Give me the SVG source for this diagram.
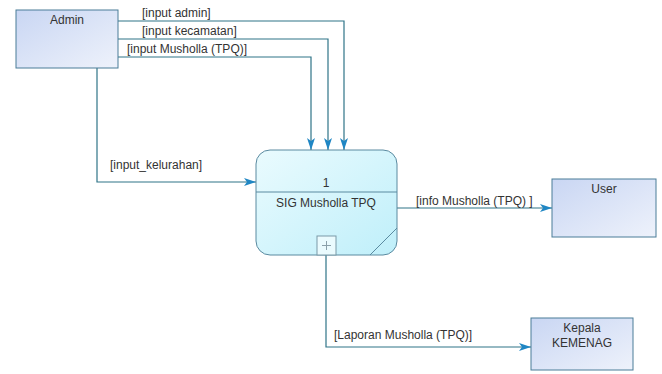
<svg xmlns="http://www.w3.org/2000/svg" width="662" height="374" viewBox="0 0 662 374">
<defs>
<linearGradient id="ent" x1="0" y1="0" x2="1" y2="1">
<stop offset="0" stop-color="#c9d6f3"/>
<stop offset="1" stop-color="#eef2fb"/>
</linearGradient>
<linearGradient id="proc" x1="0" y1="0" x2="1" y2="1">
<stop offset="0" stop-color="#eafbfe"/>
<stop offset="1" stop-color="#bfeffa"/>
</linearGradient>
<marker id="arr" viewBox="0 0 12 8" refX="12" refY="4" markerWidth="12" markerHeight="8" markerUnits="userSpaceOnUse" orient="auto">
<path d="M0,0 L12,4 L0,8 L3,4 Z" fill="#1f86c4"/>
</marker>
<style>
.ent{fill:url(#ent);stroke:#4a7d98;stroke-width:1}
.proc{fill:url(#proc);stroke:#5a8aa0;stroke-width:1}
.ln{fill:none;stroke:#2f7488;stroke-width:1.2}
.t{font-family:"Liberation Sans",Arial,sans-serif;font-size:12px;fill:#333}
.c{text-anchor:middle}
</style>
</defs>
<g id="connectors">
<path class="ln" d="M118,21 H344 V150" marker-end="url(#arr)"/>
<path class="ln" d="M118,39 H328 V150" marker-end="url(#arr)"/>
<path class="ln" d="M118,57 H311 V150" marker-end="url(#arr)"/>
<path class="ln" d="M97,68 V182 H256" marker-end="url(#arr)"/>
<path class="ln" d="M397,208 H552" marker-end="url(#arr)"/>
<path class="ln" d="M326,255 V347 H531" marker-end="url(#arr)"/>
<text class="t" x="142" y="17">[input admin]</text>
<text class="t" x="142" y="35">[input kecamatan]</text>
<text class="t" x="127" y="53">[input Musholla (TPQ)]</text>
<text class="t" x="110" y="169">[input_kelurahan]</text>
<text class="t" x="416" y="205">[info Musholla (TPQ) ]</text>
<text class="t" x="334" y="339">[Laporan Musholla (TPQ)]</text>
</g>
<g id="admin">
<rect class="ent" x="16" y="10" width="102" height="58"/>
<text class="t c" x="67" y="24">Admin</text>
</g>
<g id="process1">
<rect class="proc" x="256" y="150" width="141" height="105" rx="14" ry="14"/>
<line x1="256" y1="192" x2="397" y2="192" stroke="#5a8aa0" stroke-width="1"/>
<line x1="370" y1="255" x2="397" y2="228" stroke="#5a8aa0" stroke-width="1"/>
<rect x="317" y="236" width="19" height="19" fill="#eafbfe" stroke="#7a9aa8" stroke-width="1"/>
<path d="M322,245.5 H331 M326.5,241 V250" stroke="#8aa0aa" stroke-width="1" fill="none"/>
<text class="t c" x="326" y="187">1</text>
<text class="t c" x="326" y="207">SIG Musholla TPQ</text>
</g>
<g id="user">
<rect class="ent" x="552" y="179" width="104" height="58"/>
<text class="t c" x="604" y="193">User</text>
</g>
<g id="kemenag">
<rect class="ent" x="531" y="318" width="102" height="52"/>
<text class="t c" x="582" y="332">Kepala</text>
<text class="t c" x="582" y="347">KEMENAG</text>
</g>
</svg>
